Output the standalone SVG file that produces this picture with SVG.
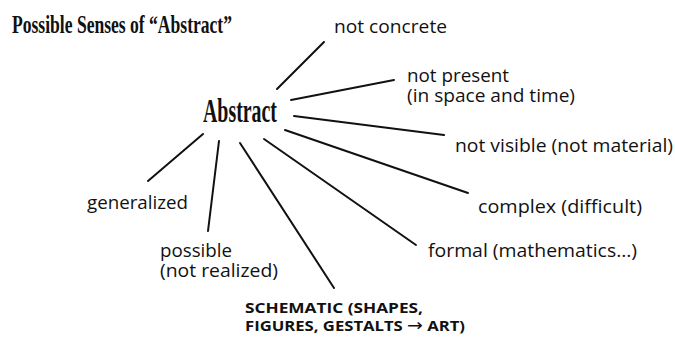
<svg xmlns="http://www.w3.org/2000/svg" width="675" height="337" viewBox="0 0 675 337">
<style>
.t{font-family:"Liberation Serif",serif;font-weight:bold;fill:#111}
.l{font-family:"Open Sans","Noto Sans",sans-serif;font-size:18.5px;fill:#111}
.b{font-family:"Open Sans","Noto Sans",sans-serif;font-size:15px;font-weight:bold;fill:#111}
.c line{stroke:#111;stroke-width:2;stroke-linecap:round}
</style>
<rect width="675" height="337" fill="#fff"/>
<text class="t" x="12" y="33" font-size="26" textLength="220" lengthAdjust="spacingAndGlyphs">Possible Senses of “Abstract”</text>
<g id="abstract"><text class="t" x="203" y="122" font-size="33" textLength="74" lengthAdjust="spacingAndGlyphs">Abstract</text></g>
<g id="connectors" class="c">
<line x1="277" y1="89" x2="324" y2="42"/>
<line x1="291" y1="100" x2="394" y2="80"/>
<line x1="294" y1="116" x2="444" y2="135"/>
<line x1="285" y1="130" x2="468" y2="193"/>
<line x1="264" y1="139" x2="416" y2="245"/>
<line x1="240" y1="143" x2="334" y2="288"/>
<line x1="219" y1="141" x2="208" y2="231"/>
<line x1="203" y1="134" x2="148" y2="181"/>
</g>
<g id="not-concrete"><text class="l" x="334" y="33" textLength="113" lengthAdjust="spacingAndGlyphs">not concrete</text></g>
<g id="not-present"><text class="l" x="407" y="82" textLength="102" lengthAdjust="spacingAndGlyphs">not present</text><text class="l" x="407" y="102" textLength="168" lengthAdjust="spacingAndGlyphs">(in space and time)</text></g>
<g id="not-visible"><text class="l" x="455" y="152" textLength="218" lengthAdjust="spacingAndGlyphs">not visible (not material)</text></g>
<g id="complex"><text class="l" x="478" y="213" textLength="164" lengthAdjust="spacingAndGlyphs">complex (difficult)</text></g>
<g id="formal"><text class="l" x="428" y="257" textLength="209" lengthAdjust="spacingAndGlyphs">formal (mathematics…)</text></g>
<g id="generalized"><text class="l" x="87" y="209" textLength="101" lengthAdjust="spacingAndGlyphs">generalized</text></g>
<g id="possible"><text class="l" x="160" y="257" textLength="72" lengthAdjust="spacingAndGlyphs">possible</text><text class="l" x="160" y="277" textLength="118" lengthAdjust="spacingAndGlyphs">(not realized)</text></g>
<g id="schematic"><text class="b" x="245" y="313" textLength="178" lengthAdjust="spacingAndGlyphs">SCHEMATIC (SHAPES,</text><text class="b" x="245" y="331" textLength="220" lengthAdjust="spacingAndGlyphs">FIGURES, GESTALTS <tspan font-family="DejaVu Sans" font-weight="normal" font-size="17">→</tspan> ART)</text></g>
</svg>
